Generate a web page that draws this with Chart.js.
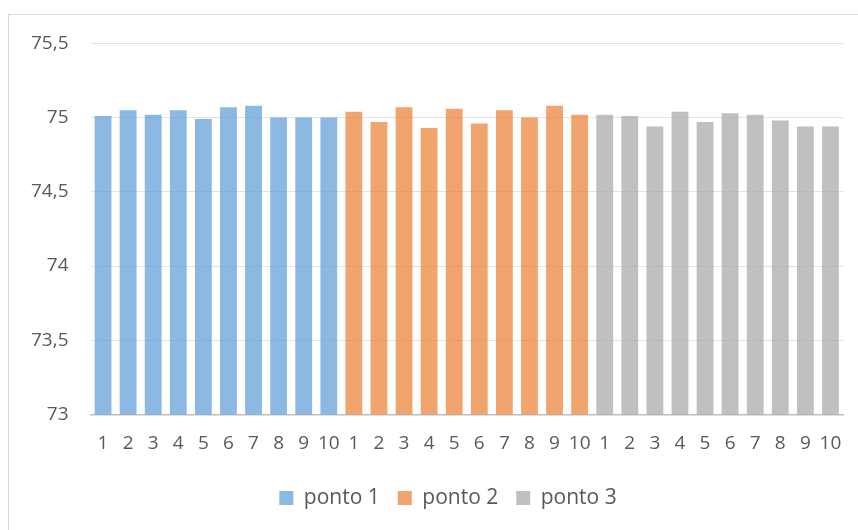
<!DOCTYPE html>
<html>
<head>
<meta charset="utf-8">
<script src="https://cdn.jsdelivr.net/npm/chart.js@4"></script>
<style>
  html, body { margin: 0; padding: 0; background: #fff; overflow: hidden; }
  #frame { position: absolute; left: 8px; top: 14px; width: 858px; height: 530px; border: 1px solid #d9d9d9; box-sizing: border-box; }
  #wrap { position: absolute; left: 0; top: -5.4px; width: 849px; height: 520.4px; }
</style>
</head>
<body>
<div id="frame"><div id="wrap"><canvas id="chart"></canvas></div></div>
<script>
// readings per point
var pontos = ['1', '2', '3', '4', '5', '6', '7', '8', '9', '10'];
var ponto1 = [75.01, 75.05, 75.02, 75.05, 74.99, 75.07, 75.08, 75.00, 75.00, 75.00];
var ponto2 = [75.04, 74.97, 75.07, 74.93, 75.06, 74.96, 75.05, 75.00, 75.08, 75.02];
var ponto3 = [75.02, 75.01, 74.94, 75.04, 74.97, 75.03, 75.02, 74.98, 74.94, 74.94];
var yTicks = [73, 73.5, 74, 74.5, 75, 75.5];

var series = [ponto1, ponto2, ponto3];
var names = ['ponto 1', 'ponto 2', 'ponto 3'];
// office colours at 70% so the gridlines show through like the original
var colors = ['rgba(91,155,213,0.7)', 'rgba(237,125,49,0.7)', 'rgba(165,165,165,0.7)'];

var chartLabels = pontos.concat(pontos, pontos);
var datasets = series.map(function (vals, i) {
    var data = [];
    for (var k = 0; k < series.length; k++) {
        data = data.concat(k === i ? vals : pontos.map(function () { return null; }));
    }
    return {
        label: names[i],
        data: data,
        backgroundColor: colors[i],
        borderWidth: 0,
        grouped: false,
        barPercentage: 0.67,
        categoryPercentage: 1
    };
});

var font = { family: '"Open Sans", Lato, sans-serif', size: 19 };

// legend sits a bit right of centre in the original
var legendShift = {
    id: 'legendShift',
    afterLayout: function (chart) {
        chart.legend.left += 22;
        chart.legend.right += 22;
    }
};

new Chart(document.getElementById('chart'), {
    type: 'bar',
    data: { labels: chartLabels, datasets: datasets },
    plugins: [legendShift],
    options: {
        responsive: true,
        maintainAspectRatio: false,
        animation: false,
        layout: { padding: { top: 0, right: 15, left: 0, bottom: 12 } },
        plugins: {
            tooltip: { enabled: false },
            legend: {
                position: 'bottom',
                labels: { font: { family: font.family, size: 21 }, color: '#595959', boxWidth: 14, boxHeight: 14, padding: 18 }
            }
        },
        scales: {
            x: {
                grid: { display: false },
                border: { color: '#bfbfbf', width: 1.5 },
                ticks: { font: font, color: '#595959', autoSkip: false, maxRotation: 0, padding: 10 },
                afterFit: function (s) { s.height = 55; }
            },
            y: {
                min: 73,
                max: 75.5,
                afterBuildTicks: function (s) { s.ticks = yTicks.map(function (v) { return { value: v }; }); },
                grid: { color: '#e3e3e3', lineWidth: 1, drawTicks: false },
                border: { display: false },
                ticks: {
                    font: font, color: '#595959', padding: 22,
                    callback: function (v) { return String(v).replace('.', ','); }
                },
                afterFit: function (s) { s.width = 81.5; }
            }
        }
    }
});
</script>
</body>
</html>
